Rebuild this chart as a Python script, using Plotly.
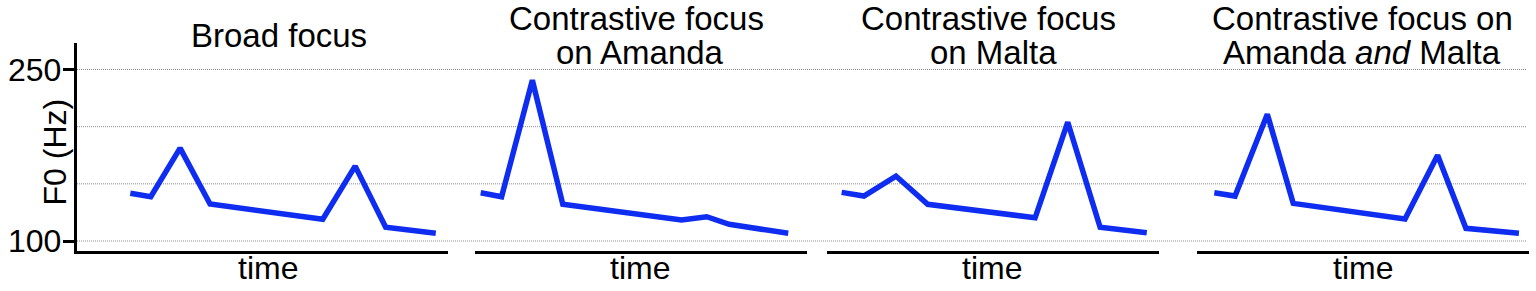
import plotly.graph_objects as go

W, H = 1536, 291

# ---- data (normalised time within utterance, F0 in Hz) ----
time_broad = [0.0, 0.067, 0.163, 0.261, 0.630, 0.736, 0.836, 1.0]
f0_broad = [141.7, 138.7, 181.2, 132.3, 119.0, 165.5, 112.0, 106.7]

time_amanda = [0.0, 0.068, 0.168, 0.267, 0.653, 0.735, 0.808, 1.0]
f0_amanda = [142.2, 138.7, 240.6, 132.1, 118.3, 121.2, 114.6, 106.7]

time_malta = [0.0, 0.073, 0.178, 0.282, 0.634, 0.741, 0.847, 1.0]
f0_malta = [142.5, 139.3, 156.8, 132.1, 120.3, 203.9, 112.0, 107.2]

time_both = [0.0, 0.068, 0.174, 0.259, 0.626, 0.733, 0.826, 1.0]
f0_both = [142.2, 139.3, 210.9, 132.9, 119.2, 175.1, 111.1, 106.7]

panel_titles = [
    ["Broad focus"],
    ["Contrastive focus", "on Amanda"],
    ["Contrastive focus", "on Malta"],
    ["Contrastive focus on", "Amanda <i>and</i> Malta"],
]
y_tick_values = [100, 250]
y_tick_labels = ["100", "250"]
grid_values = [100, 150, 200, 250]
y_title = "F0 (Hz)"
x_title = "time"

series = [(time_broad, f0_broad), (time_amanda, f0_amanda),
          (time_malta, f0_malta), (time_both, f0_both)]

# ---- layout geometry (pixels) ----
x_dom_px = [(77, 448), (475, 807), (827, 1159), (1197, 1529)]
x_ranges = [(-0.1745, 1.040), (-0.0185, 1.061), (-0.048, 1.040), (-0.0568, 1.033)]
y_top_px, y_bot_px = 43, 251
y_range = (91.25, 273.2)
title_cx = [[279], [636, 640], [988, 993], [1362, 1362]]
time_cx = [268, 640, 992, 1363]

FONT = "Liberation Sans, Arial, sans-serif"
LINE_COLOR = "#0F2DF0"

fig = go.Figure()
for i, (t, f) in enumerate(series):
    xa = "x" if i == 0 else f"x{i+1}"
    fig.add_trace(go.Scatter(x=t, y=f, mode="lines", xaxis=xa, yaxis="y",
                             line=dict(color=LINE_COLOR, width=5.5),
                             showlegend=False, hoverinfo="skip"))

layout = dict(
    width=W, height=H, autosize=False,
    margin=dict(l=0, r=0, t=0, b=0, pad=0),
    paper_bgcolor="white", plot_bgcolor="white",
    font=dict(family=FONT, color="black", size=32),
    yaxis=dict(
        domain=[(H - y_bot_px) / H, (H - y_top_px) / H],
        range=list(y_range), anchor="x",
        tickvals=y_tick_values, ticks="outside", ticklen=11,
        tickwidth=2.5, tickcolor="black", showticklabels=False,
        showline=True, linewidth=2.5, linecolor="black",
        showgrid=False, zeroline=False, automargin=False,
    ),
)
for i in range(4):
    key = "xaxis" if i == 0 else f"xaxis{i+1}"
    a, b = x_dom_px[i]
    layout[key] = dict(
        domain=[a / W, b / W], range=list(x_ranges[i]), anchor="y",
        showline=True, linewidth=2.5, linecolor="black",
        showticklabels=False, ticks="", showgrid=False, zeroline=False,
        automargin=False,
    )
fig.update_layout(**layout)

# gridlines spanning all panels
for v in grid_values:
    fig.add_shape(type="line", xref="paper", yref="y",
                  x0=77 / W, x1=1527 / W, y0=v, y1=v,
                  line=dict(color="#8a8a8a", width=1, dash="1px,1px"),
                  layer="below")

annotations = []
# y tick labels (placed on the y scale)
for v, lab in zip(y_tick_values, y_tick_labels):
    annotations.append(dict(text=lab, xref="paper", yref="y",
                            x=63 / W, y=v, xanchor="right", yanchor="middle",
                            showarrow=False,
                            font=dict(size=32, family=FONT, color="black")))
# panel titles
for i, lines in enumerate(panel_titles):
    ys = [47 - 11.5] if len(lines) == 1 else [30 - 11.5, 63.5 - 11.5]
    for j, txt in enumerate(lines):
        annotations.append(dict(text=txt, xref="paper", yref="paper",
                                x=title_cx[i][j] / W, y=(H - ys[j]) / H,
                                xanchor="center", yanchor="middle",
                                showarrow=False,
                                font=dict(size=33, family=FONT, color="black")))
# x axis titles
for i in range(4):
    annotations.append(dict(text=x_title, xref="paper", yref="paper",
                            x=time_cx[i] / W, y=(H - 268) / H,
                            xanchor="center", yanchor="middle", showarrow=False,
                            font=dict(size=32, family=FONT, color="black")))
# y axis title
annotations.append(dict(text=y_title, xref="paper", yref="paper",
                        x=54 / W, y=(H - 152.5) / H, textangle=-90,
                        xanchor="center", yanchor="middle", showarrow=False,
                        font=dict(size=32, family=FONT, color="black")))
fig.update_layout(annotations=annotations)

fig.write_html("out.html",
               config={"displayModeBar": False, "responsive": False},
               post_script="document.body.style.margin='0';")
